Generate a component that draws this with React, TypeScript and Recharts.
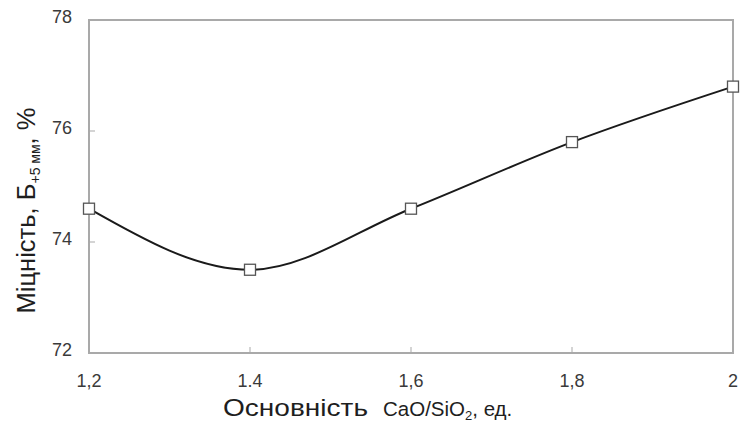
import { Label, Line, LineChart, ReferenceArea, XAxis, YAxis } from "recharts";

// basicity CaO/SiO2 vs strength (+5 mm fraction)
const basicity = [1.2, 1.4, 1.6, 1.8, 2.0];
const strength = [74.6, 73.5, 74.6, 75.8, 76.8];

const xTicks = [1.2, 1.4, 1.6, 1.8, 2.0];
const xTickLabels = ["1,2", "1.4", "1,6", "1,8", "2"];
const yTicks = [72, 74, 76, 78];
const yTickLabels = ["72", "74", "76", "78"];

const FONT = "'Liberation Sans', Arial, sans-serif";
const FRAME = "#a9a9a9";

const data = basicity.map((b, i) => ({ b, s: strength[i] }));

function XTick(props: any) {
	const { x, y, payload } = props;
	const i = xTicks.indexOf(payload.value);
	const inner = i > 0 && i < xTicks.length - 1;
	return (
		<g>
			{inner && <line x1={x} x2={x} y1={y} y2={y - 6} stroke={FRAME} strokeWidth={1} />}
			<text x={x} y={y + 34} textAnchor="middle" fontSize={18} fontFamily={FONT} fill="#3a3a3a">
				{xTickLabels[i]}
			</text>
		</g>
	);
}

function YTick(props: any) {
	const { x, y, payload } = props;
	const i = yTicks.indexOf(payload.value);
	const inner = i > 0 && i < yTicks.length - 1;
	return (
		<g>
			{inner && <line x1={x} x2={x + 6} y1={y} y2={y} stroke={FRAME} strokeWidth={1} />}
			<text x={x - 17} y={y + 3} textAnchor="end" fontSize={18} fontFamily={FONT} fill="#3a3a3a">
				{yTickLabels[i]}
			</text>
		</g>
	);
}

function SquareDot(props: any) {
	const { cx, cy } = props;
	if (cx == null || cy == null) return null;
	return <rect x={cx - 5.5} y={cy - 5.5} width={11} height={11} fill="#fff" stroke="#555" strokeWidth={1.3} />;
}

function YTitle(props: any) {
	const vb = props.viewBox;
	const cx = vb.x + 35;
	const cy = vb.y + vb.height / 2 + 24;
	return (
		<text
			x={cx}
			y={cy}
			transform={`rotate(-90, ${cx}, ${cy})`}
			textAnchor="middle"
			fontFamily={FONT}
			fontSize={25.5}
			fill="#1e1e1e"
		>
			<tspan>Міцність, Б</tspan>
			<tspan fontSize={14} dy={5}>
				+5 мм
			</tspan>
			<tspan dy={-5}>, %</tspan>
		</text>
	);
}

function XTitle(props: any) {
	const vb = props.viewBox;
	const x0 = vb.x + 134;
	const y0 = vb.y + 63;
	return (
		<g fontFamily={FONT} fill="#1e1e1e">
			<text x={x0} y={y0} fontSize={23} textLength={145} lengthAdjust="spacingAndGlyphs">
				Основність
			</text>
			<text x={x0 + 160} y={y0} fontSize={20.5}>
				<tspan>CaO/SiO</tspan>
				<tspan fontSize={13} dy={4}>
					2
				</tspan>
				<tspan dy={-4}>, ед.</tspan>
			</text>
		</g>
	);
}

export default function App() {
	return (
		<div style={{ position: "absolute", left: 0, top: 0, width: 740, height: 425, background: "#fff" }}>
			<LineChart width={740} height={425} data={data} margin={{ top: 20, right: 7, bottom: 0, left: 0 }}>
				<XAxis
					dataKey="b"
					type="number"
					domain={[1.2, 2.0]}
					ticks={xTicks}
					height={72}
					tickSize={0}
					tickMargin={0}
					tick={<XTick />}
					axisLine={{ stroke: FRAME, strokeWidth: 2 }}
				>
					<Label content={<XTitle />} />
				</XAxis>
				<YAxis
					type="number"
					domain={[72, 78]}
					ticks={yTicks}
					width={89}
					tickSize={0}
					tickMargin={0}
					tick={<YTick />}
					axisLine={{ stroke: FRAME, strokeWidth: 2 }}
				>
					<Label content={<YTitle />} />
				</YAxis>
				<ReferenceArea x1={1.2} x2={2.0} y1={72} y2={78} fill="none" stroke={FRAME} strokeWidth={2} />
				<Line
					dataKey="s"
					type="monotone"
					stroke="#1a1a1a"
					strokeWidth={2}
					dot={<SquareDot />}
					activeDot={false}
					isAnimationActive={false}
				/>
			</LineChart>
		</div>
	);
}
